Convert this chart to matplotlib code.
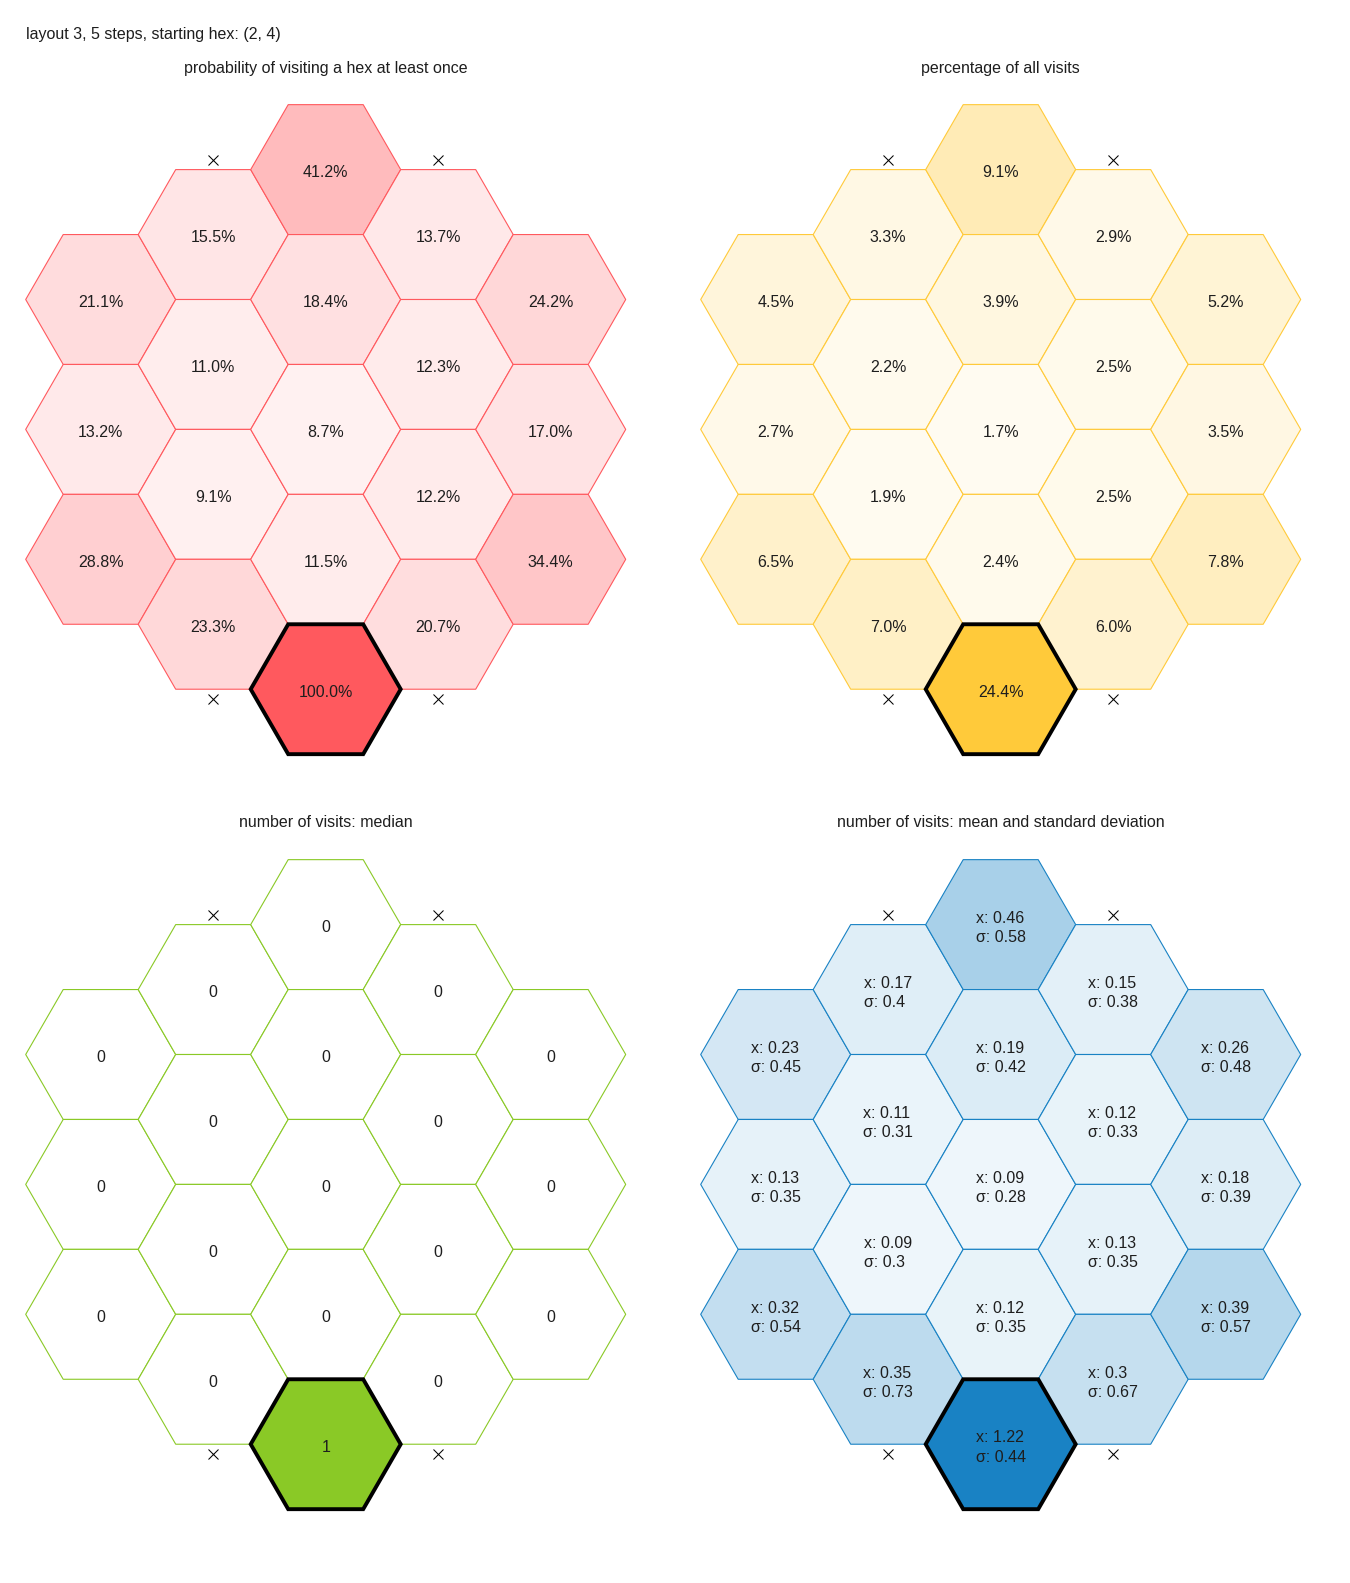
import numpy as np
import matplotlib
matplotlib.use('Agg')
import matplotlib.pyplot as plt
from matplotlib.patches import RegularPolygon

plt.rcParams['font.family'] = ['Liberation Sans', 'DejaVu Sans']

# hex grid: column index and half-row index (k) of each hex, top to bottom per column
hex_col = [0, 0, 0, 1, 1, 1, 1, 2, 2, 2, 2, 2, 3, 3, 3, 3, 4, 4, 4]
hex_k = [2, 4, 6, 1, 3, 5, 7, 0, 2, 4, 6, 8, 1, 3, 5, 7, 2, 4, 6]
start_col, start_k = 2, 8

# blocked exits (column, side)
cross_col = [1, 3, 1, 3]
cross_side = ['top', 'top', 'bottom', 'bottom']

prob_visit = [21.1, 13.2, 28.8, 15.5, 11.0, 9.1, 23.3, 41.2, 18.4, 8.7, 11.5, 100.0,
              13.7, 12.3, 12.2, 20.7, 24.2, 17.0, 34.4]
pct_visits = [4.5, 2.7, 6.5, 3.3, 2.2, 1.9, 7.0, 9.1, 3.9, 1.7, 2.4, 24.4,
              2.9, 2.5, 2.5, 6.0, 5.2, 3.5, 7.8]
median_visits = [0, 0, 0, 0, 0, 0, 0, 0, 0, 0, 0, 1, 0, 0, 0, 0, 0, 0, 0]
mean_visits = [0.23, 0.13, 0.32, 0.17, 0.11, 0.09, 0.35, 0.46, 0.19, 0.09, 0.12, 1.22,
               0.15, 0.12, 0.13, 0.3, 0.26, 0.18, 0.39]
sd_visits = [0.45, 0.35, 0.54, 0.4, 0.31, 0.3, 0.73, 0.58, 0.42, 0.28, 0.35, 0.44,
             0.38, 0.33, 0.35, 0.67, 0.48, 0.39, 0.57]

titles = ['probability of visiting a hex at least once', 'percentage of all visits',
          'number of visits: median', 'number of visits: mean and standard deviation']
colors = ['#ff595e', '#ffca3a', '#8ac926', '#1982c4']

labels = [
    ['{:.1f}%'.format(v) for v in prob_visit],
    ['{:.1f}%'.format(v) for v in pct_visits],
    ['{}'.format(v) for v in median_visits],
    ['x: {:g}\nσ: {:g}'.format(m, s) for m, s in zip(mean_visits, sd_visits)],
]
values = [prob_visit, pct_visits, median_visits, mean_visits]

W, H = 1350, 1583
unit = 75.0          # pixels per hex radius
h3 = np.sqrt(3) / 2
text_color = '#1e1e1e'
fsize = 11.5

fig = plt.figure(figsize=(W / 100, H / 100), dpi=100)
fig.text(25.7 / W, 1 - 39.3 / H, 'layout 3, 5 steps, starting hex: (2, 4)',
         fontsize=fsize, color=text_color, va='baseline', ha='left')


def blend(color, a):
    rgb = np.array(matplotlib.colors.to_rgb(color))
    return tuple(1 - a * (1 - rgb))


for p in range(4):
    dx = 675 * (p % 2)
    dy = 755 * (p // 2)
    cx = 325.7 + dx
    cy = 169.6 + dy
    x0, x1 = dx, dx + 675
    ytop, ybot = dy + 85, dy + 785
    ax = fig.add_axes([x0 / W, 1 - ybot / H, (x1 - x0) / W, (ybot - ytop) / H])
    ax.set_xlim((x0 - cx) / unit + 3, (x1 - cx) / unit + 3)
    ax.set_ylim(-(ybot - cy) / unit, -(ytop - cy) / unit)
    ax.axis('off')

    vals = values[p]
    vmax = max(vals)
    col = colors[p]
    for i in range(len(hex_col)):
        x = 1.5 * hex_col[i]
        y = -hex_k[i] * h3
        is_start = hex_col[i] == start_col and hex_k[i] == start_k
        a = vals[i] / vmax if vmax > 0 else 0
        face = blend(col, a)
        if is_start:
            hx = RegularPolygon((x, y), 6, radius=1, orientation=np.radians(30),
                                facecolor=face, edgecolor='black', linewidth=2.8, zorder=3)
        else:
            hx = RegularPolygon((x, y), 6, radius=1, orientation=np.radians(30),
                                facecolor=face, edgecolor=col, linewidth=0.8, zorder=1)
        ax.add_patch(hx)
        ax.text(x, y - 0.045, labels[p][i], ha='center', va='center', multialignment='left',
                linespacing=1.35, fontsize=fsize, color=text_color, zorder=4)

    for c, side in zip(cross_col, cross_side):
        x = 1.5 * c
        if side == 'top':
            y = 0.13
        else:
            y = -8 * h3 - 0.13
        ax.plot(x, y, marker='x', color='black', markersize=7.7, markeredgewidth=0.75, zorder=5)

    fig.text(cx / W, 1 - (72.5 + dy) / H, titles[p], fontsize=fsize, color=text_color,
             ha='center', va='baseline')

fig.savefig('out.png', dpi=100)
